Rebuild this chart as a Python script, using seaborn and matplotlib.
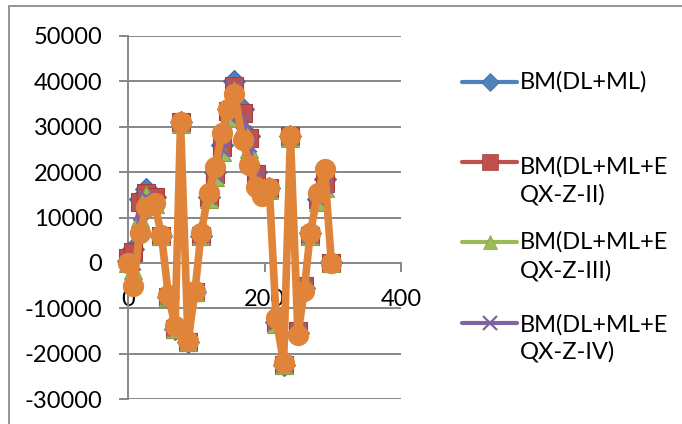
import matplotlib
matplotlib.use('Agg')
import matplotlib.pyplot as plt
import seaborn as sns
import pandas as pd
from matplotlib.lines import Line2D
from matplotlib.patches import Rectangle

sns.set_style('white')
plt.rcParams['font.family'] = ['Lato', 'DejaVu Sans']

# ---- data ----
x_vals = [0, 8, 17, 27, 39, 49, 59, 69, 77, 88, 98, 107, 118, 128, 138, 146,
          156, 168, 178, 188, 196, 207, 217, 228, 238, 249, 258, 267, 278, 288, 298]

bm_dl_ml = [500, 3000, 14000, 16300, 14500, 6000, -7500, -14500, 31000, -17500, -6500,
            6000, 14500, 20000, 26000, 34000, 40000, 34000, 28000, 20000, 16000, 16500,
            -13000, -22500, 28000, -15500, -5500, 6500, 14000, 18500, 200]
bm_eqx_ii = [1000, 2500, 13500, 15500, 14500, 6000, -7500, -14500, 31000, -17500, -6500,
             6000, 14500, 19500, 25500, 33500, 39000, 33000, 27500, 19500, 16500, 16500,
             -13000, -22500, 28000, -15000, -5000, 6000, 14000, 17500, 0]
bm_eqx_iii = [0, -1500, 10000, 15000, 13000, 6000, -7500, -14500, 30500, -17500, -6500,
              6000, 14000, 19000, 24500, 32000, 38000, 30000, 25000, 18500, 16000, 16000,
              -13500, -22500, 27500, -15000, -5000, 6000, 13500, 16500, 0]
bm_eqx_iv = [0, 0, 11000, 14500, 13500, 6000, -7500, -14500, 30500, -17500, -6500,
             6000, 14500, 19500, 25000, 32500, 38500, 31000, 26000, 19000, 16000, 16000,
             -13000, -22500, 27500, -15000, -5000, 6000, 14000, 17000, 0]
bm_fifth = [0, -5000, 6500, 12400, 13100, 6200, -7000, -13900, 31000, -17300, -6300,
            6500, 15500, 21200, 28700, 34000, 37300, 27000, 21600, 16800, 14800, 16500,
            -12200, -22000, 28000, -15800, -6300, 6500, 15300, 20600, 0]

series_names = ['BM(DL+ML)', 'BM(DL+ML+EQX-Z-II)', 'BM(DL+ML+EQX-Z-III)',
                'BM(DL+ML+EQX-Z-IV)', 'BM(5)']
legend_lines = [['BM(DL+ML)'], ['BM(DL+ML+E', 'QX-Z-II)'],
                ['BM(DL+ML+E', 'QX-Z-III)'], ['BM(DL+ML+E', 'QX-Z-IV)']]
y_ticks = [-30000, -20000, -10000, 0, 10000, 20000, 30000, 40000, 50000]
x_ticks = [0, 200, 400]

all_y = [bm_dl_ml, bm_eqx_ii, bm_eqx_iii, bm_eqx_iv, bm_fifth]
rows = []
for name, ys in zip(series_names, all_y):
    for xv, yv in zip(x_vals, ys):
        rows.append({'x': xv, 'y': yv, 'series': name})
df = pd.DataFrame(rows)

# ---- styles ----
colors = ['#4F81BD', '#C0504D', '#9BBB59', '#8064A2', '#E0843A']
edge = ['#3A6EA8', '#A43F3C', '#86A447', '#8064A2', '#E0843A']
markers = ['D', 's', '^', 'x', 'o']
msizes = [11, 13.5, 13, 10, 14.5]
lws = [3, 3, 3, 3, 5.5]

fig = plt.figure(figsize=(6.82, 4.24), dpi=100)
ax = fig.add_axes([128 / 682, 1 - 399 / 424, 273 / 682, 363 / 424])

for i, name in enumerate(series_names):
    sub = df[df['series'] == name]
    sns.lineplot(data=sub, x='x', y='y', sort=False, estimator=None, ax=ax,
                 color=colors[i], marker=markers[i], markersize=msizes[i],
                 markeredgecolor=edge[i], markeredgewidth=2 if markers[i] == 'x' else 0.8,
                 linewidth=lws[i], legend=False, zorder=3 + i, clip_on=False)

grid_c = '#878787'
ax.set_xlim(0, 400)
ax.set_ylim(-30000, 50000)
ax.set_yticks(y_ticks)
ax.set_xticks(x_ticks)
ax.set_yticklabels([str(v) for v in y_ticks])
ax.set_xticklabels([str(v) for v in x_ticks])
ax.set_xlabel('')
ax.set_ylabel('')
ax.grid(False)
for yv in y_ticks:
    if yv != 0:
        ax.axhline(yv, color=grid_c, lw=1.4, zorder=1)

for s in ['top', 'right']:
    ax.spines[s].set_visible(False)
ax.spines['left'].set_color(grid_c)
ax.spines['left'].set_linewidth(1.4)
ax.spines['bottom'].set_position(('data', 0))
ax.spines['bottom'].set_color(grid_c)
ax.spines['bottom'].set_linewidth(1.4)
ax.spines['bottom'].set_zorder(1)
ax.spines['left'].set_zorder(1)

ax.tick_params(axis='y', direction='out', length=6.5, width=1.4, color=grid_c,
               pad=12, labelsize=17, labelcolor='black', left=True)
ax.tick_params(axis='x', direction='out', length=6.5, width=1.4, color=grid_c,
               pad=12, labelsize=17, labelcolor='black', bottom=True)
ax.set_facecolor('none')

# ---- manual legend (Excel style: marker aligned with first text line) ----
handle_y = [82, 162, 242, 323]
text_y = [[82], [167, 195], [242, 271], [325, 352]]
for i in range(4):
    yy = 1 - handle_y[i] / 424
    fig.add_artist(Line2D([462 / 682, 517 / 682], [yy, yy], transform=fig.transFigure,
                          color=colors[i], lw=3, solid_capstyle='round'))
    fig.add_artist(Line2D([489.5 / 682], [yy], transform=fig.transFigure,
                          color=colors[i], marker=markers[i],
                          markersize=[9, 11, 10, 10][i], markeredgecolor=edge[i],
                          markeredgewidth=1.6 if markers[i] == 'x' else 0.5, lw=0))
    for line, ty in zip(legend_lines[i], text_y[i]):
        fig.text(520 / 682, 1 - ty / 424, line, ha='left', va='center', fontsize=17,
                 color='black')

# outer chart border (cut off at right and bottom as in the reference)
fig.add_artist(Rectangle((9 / 682, -0.1), 1.2, 1 - 6 / 424 + 0.1, transform=fig.transFigure,
                         fill=False, edgecolor='#8C8C8C', lw=1.3))

fig.savefig('out.png', dpi=100)
